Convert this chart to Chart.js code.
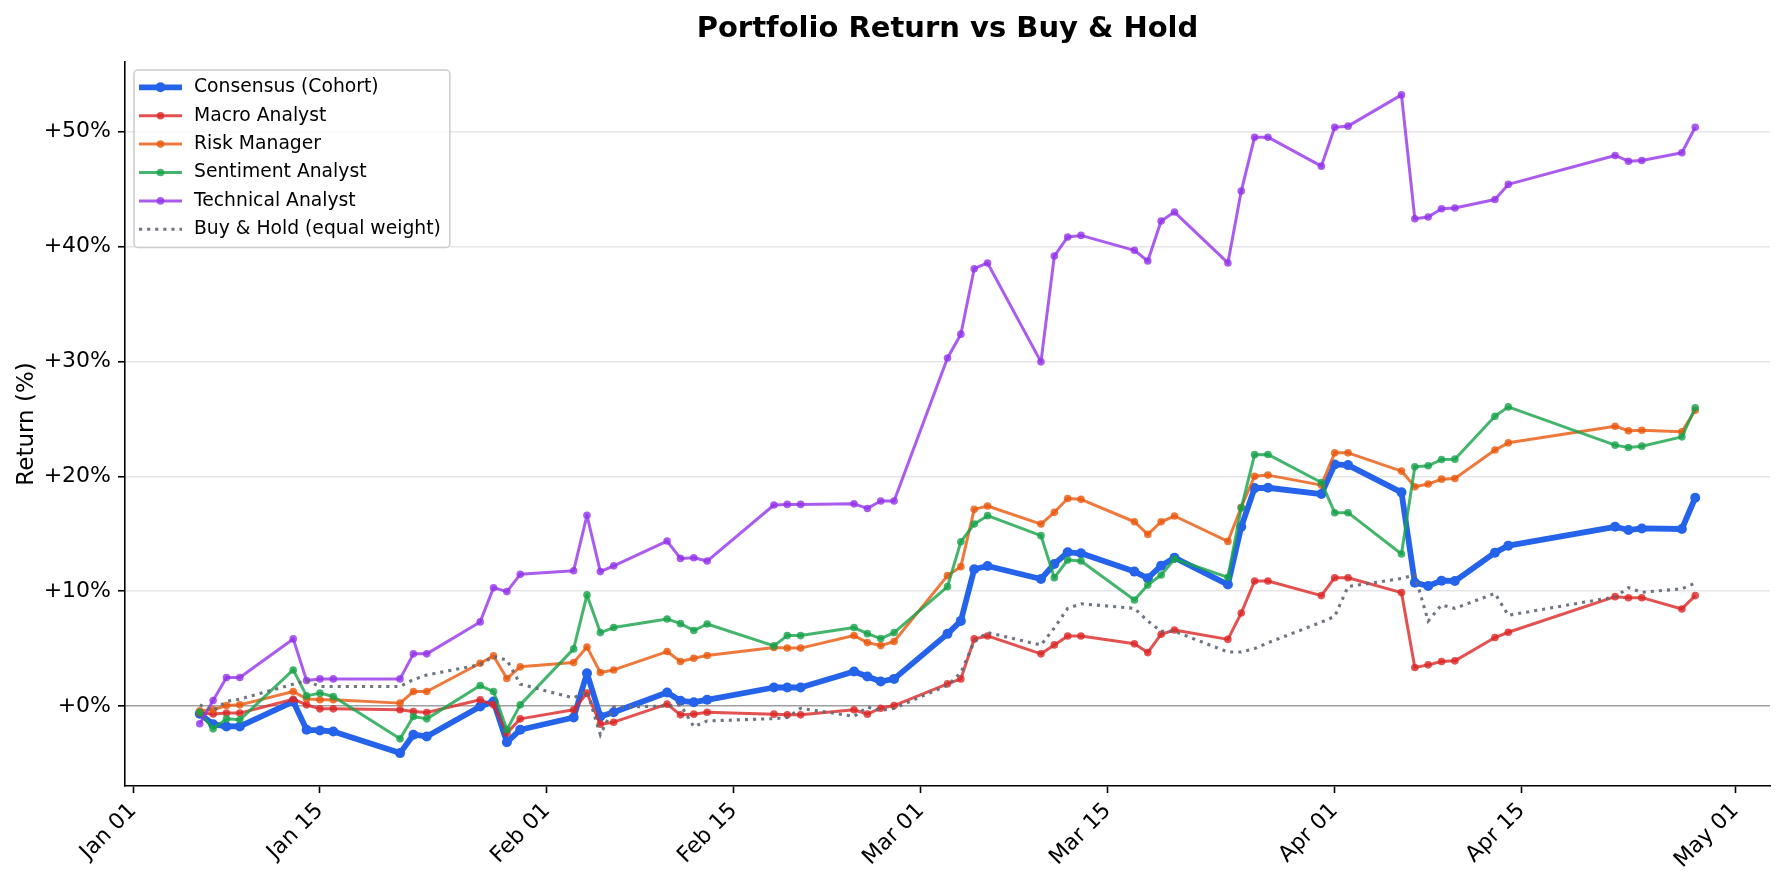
<!DOCTYPE html>
<html lang="en">
<head>
<meta charset="UTF-8">
<title>Portfolio Return vs Buy & Hold</title>
<script src="https://cdn.jsdelivr.net/npm/chart.js@4.4.1/dist/chart.umd.min.js"></script>
<style>
    html, body { margin: 0; padding: 0; background: #ffffff; }
    #wrap { width: 1785px; height: 883px; }
</style>
</head>
<body>
<div id="wrap"><canvas id="returnChart" width="1785" height="883"></canvas></div>
<script>
    // Datos (retorno acumulado en %)
    const chartTitle = 'Portfolio Return vs Buy & Hold';
    const yAxisLabel = 'Return (%)';

    const tradeDates = [
        '2026-01-06', '2026-01-07', '2026-01-08', '2026-01-09', '2026-01-13', '2026-01-14', '2026-01-15', '2026-01-16',
        '2026-01-21', '2026-01-22', '2026-01-23', '2026-01-27', '2026-01-28', '2026-01-29', '2026-01-30',
        '2026-02-03', '2026-02-04', '2026-02-05', '2026-02-06', '2026-02-10', '2026-02-11', '2026-02-12', '2026-02-13',
        '2026-02-18', '2026-02-19', '2026-02-20', '2026-02-24', '2026-02-25', '2026-02-26', '2026-02-27',
        '2026-03-03', '2026-03-04', '2026-03-05', '2026-03-06', '2026-03-10', '2026-03-11', '2026-03-12', '2026-03-13',
        '2026-03-17', '2026-03-18', '2026-03-19', '2026-03-20', '2026-03-24', '2026-03-25', '2026-03-26', '2026-03-27',
        '2026-03-31', '2026-04-01', '2026-04-02', '2026-04-06', '2026-04-07', '2026-04-08', '2026-04-09', '2026-04-10',
        '2026-04-13', '2026-04-14', '2026-04-22', '2026-04-23', '2026-04-24', '2026-04-27', '2026-04-28'
    ];

    const consensusReturns = [
        -0.68, -1.6, -1.78, -1.78, 0.39, -2.07, -2.13, -2.22, -4.1, -2.5, -2.65, -0.04, 0.39, -3.15, -2.07,
        -1.0, 2.85, -0.91, -0.54, 1.17, 0.45, 0.33, 0.54, 1.61, 1.61, 1.61, 3.0, 2.57, 2.13, 2.36,
        6.28, 7.41, 11.9, 12.19, 11.06, 12.36, 13.38, 13.29, 11.7, 11.12, 12.22, 12.91, 10.57, 15.6, 18.97, 19.0, 18.45,
        21.03, 20.97, 18.6, 10.74, 10.45, 10.91, 10.88, 13.35, 13.96, 15.6, 15.32, 15.46, 15.41, 18.13
    ];

    const macroReturns = [
        -0.6, -0.7, -0.62, -0.62, 0.59, 0.1, -0.25, -0.25, -0.33, -0.48, -0.57, 0.54, 0.1, -2.36, -1.12,
        -0.33, 1.12, -1.58, -1.41, 0.16, -0.77, -0.71, -0.54, -0.71, -0.77, -0.77, -0.33, -0.71, -0.19, 0.04,
        1.93, 2.36, 5.84, 6.1, 4.54, 5.32, 6.1, 6.1, 5.41, 4.65, 6.25, 6.62, 5.8, 8.1, 10.88, 10.88, 9.61,
        11.17, 11.17, 9.87, 3.35, 3.58, 3.87, 3.93, 5.96, 6.42, 9.52, 9.43, 9.43, 8.45, 9.61
    ];

    const riskReturns = [
        -0.42, -0.33, 0.04, 0.1, 1.26, 0.62, 0.54, 0.54, 0.25, 1.26, 1.26, 3.72, 4.36, 2.39, 3.41,
        3.78, 5.14, 2.91, 3.14, 4.74, 3.87, 4.16, 4.39, 5.09, 5.04, 5.04, 6.13, 5.52, 5.26, 5.61,
        11.35, 12.13, 17.12, 17.41, 15.84, 16.86, 18.07, 17.99, 16.04, 14.94, 16.04, 16.54, 14.33, 17.3, 20.0, 20.1, 19.23,
        22.04, 22.04, 20.45, 19.09, 19.32, 19.75, 19.81, 22.28, 22.91, 24.36, 23.96, 24.01, 23.87, 25.75
    ];

    const sentimentReturns = [
        -0.54, -1.99, -1.12, -1.2, 3.14, 0.88, 1.12, 0.83, -2.86, -0.91, -1.12, 1.78, 1.26, -2.07, 0.1,
        4.97, 9.67, 6.39, 6.83, 7.58, 7.17, 6.57, 7.14, 5.23, 6.13, 6.13, 6.83, 6.3, 5.87, 6.39,
        10.39, 14.3, 15.84, 16.57, 14.83, 11.17, 12.71, 12.62, 9.23, 10.54, 11.41, 12.8, 11.2, 17.23, 21.88, 21.9, 19.46,
        16.83, 16.83, 13.23, 20.83, 20.91, 21.46, 21.49, 25.23, 26.04, 22.71, 22.51, 22.62, 23.43, 25.96
    ];

    const technicalReturns = [
        -1.55, 0.48, 2.48, 2.48, 5.84, 2.22, 2.36, 2.36, 2.36, 4.54, 4.54, 7.32, 10.3, 9.96, 11.46,
        11.78, 16.6, 11.7, 12.2, 14.36, 12.85, 12.91, 12.62, 17.5, 17.55, 17.55, 17.6, 17.2, 17.85, 17.85,
        30.3, 32.37, 38.07, 38.57, 29.96, 39.17, 40.83, 40.97, 39.67, 38.74, 42.22, 43.0, 38.57, 44.83, 49.52, 49.52, 47.0,
        50.39, 50.48, 53.2, 42.42, 42.57, 43.29, 43.35, 44.1, 45.41, 47.93, 47.43, 47.49, 48.16, 50.39
    ];

    const buyHoldReturns = [
        0.1, -0.4, 0.4, 0.6, 1.9, 2.2, 1.7, 1.7, 1.7, 2.3, 2.7, 3.6, 4.3, 4.0, 1.9,
        0.7, 1.3, -2.5, -0.1, 0.0, 0.1, -1.8, -1.3, -1.1, -1.0, -0.2, -0.9, -0.1, -0.4, -0.2,
        1.8, 2.9, 5.6, 6.4, 5.3, 6.8, 8.5, 8.9, 8.5, 7.4, 6.5, 6.5, 4.7, 4.7, 5.0, 5.5, 7.3,
        7.8, 10.4, 11.1, 11.4, 7.4, 8.8, 8.5, 9.8, 7.9, 9.5, 10.3, 9.9, 10.2, 10.7
    ];

    const xTickDates = ['2026-01-01', '2026-01-15', '2026-02-01', '2026-02-15', '2026-03-01', '2026-03-15', '2026-04-01', '2026-04-15', '2026-05-01'];
    const xTickLabels = ['Jan 01', 'Jan 15', 'Feb 01', 'Feb 15', 'Mar 01', 'Mar 15', 'Apr 01', 'Apr 15', 'May 01'];
    const yTickValues = [0, 10, 20, 30, 40, 50];

    function initializeApp() {
        if (typeof Chart === 'undefined') {
            console.error('Chart.js no está cargado correctamente');
            return;
        }

        const canvas = document.getElementById('returnChart');
        const baseTime = Date.UTC(2026, 0, 1);
        const fontFamily = '"DejaVu Sans", sans-serif';

        // dias desde el 1 de enero
        function toDay(dateStr) {
            const p = dateStr.split('-');
            return (Date.UTC(+p[0], +p[1] - 1, +p[2]) - baseTime) / 86400000;
        }

        function toPoints(values) {
            return values.map((v, i) => ({ x: toDay(tradeDates[i]), y: v }));
        }

        const allDays = tradeDates.map(toDay);
        const allValues = [].concat(consensusReturns, macroReturns, riskReturns, sentimentReturns, technicalReturns, buyHoldReturns);
        // margen de 5% como matplotlib
        const xSpan = Math.max(...allDays) - Math.min(...allDays);
        const ySpan = Math.max(...allValues) - Math.min(...allValues);
        const xMin = Math.min(...allDays) - xSpan * 0.05;
        const xMax = Math.max(...allDays) + xSpan * 0.05;
        const yMin = Math.min(...allValues) - ySpan * 0.05;
        const yMax = Math.max(...allValues) + ySpan * 0.05;

        function analystSet(label, values, rgb, order) {
            return {
                label: label,
                data: toPoints(values),
                borderColor: 'rgba(' + rgb + ',0.8)',
                backgroundColor: 'rgba(' + rgb + ',0.8)',
                pointBackgroundColor: 'rgba(' + rgb + ',0.8)',
                borderWidth: 3,
                pointRadius: 3.8,
                pointBorderWidth: 0,
                pointHoverRadius: 3.8,
                borderJoinStyle: 'round',
                tension: 0,
                order: order
            };
        }

        const datasets = [
            {
                label: 'Consensus (Cohort)',
                data: toPoints(consensusReturns),
                borderColor: '#2563eb',
                backgroundColor: '#2563eb',
                pointBackgroundColor: '#2563eb',
                borderWidth: 5.8,
                pointRadius: 5,
                pointBorderWidth: 0,
                pointHoverRadius: 5,
                borderJoinStyle: 'round',
                tension: 0,
                order: 10
            },
            analystSet('Macro Analyst', macroReturns, '220,38,38', 5),
            analystSet('Risk Manager', riskReturns, '234,88,12', 4),
            analystSet('Sentiment Analyst', sentimentReturns, '22,163,74', 3),
            analystSet('Technical Analyst', technicalReturns, '147,51,234', 2),
            {
                label: 'Buy & Hold (equal weight)',
                data: toPoints(buyHoldReturns),
                borderColor: 'rgba(100,106,118,0.92)',
                backgroundColor: 'rgba(100,106,118,0.92)',
                borderWidth: 3.1,
                borderDash: [3.1, 5],
                pointRadius: 0,
                pointHoverRadius: 0,
                tension: 0,
                order: 1
            }
        ];

        // Titulo centrado sobre el area del grafico
        const titlePlugin = {
            id: 'axesTitle',
            afterDraw(chart) {
                const ctx = chart.ctx;
                const area = chart.chartArea;
                ctx.save();
                ctx.font = 'bold 29px ' + fontFamily;
                ctx.fillStyle = '#000000';
                ctx.textAlign = 'center';
                ctx.textBaseline = 'middle';
                ctx.fillText(chartTitle, (area.left + area.right) / 2, 29.5);
                ctx.restore();
            }
        };

        // Leyenda con marco dentro del area del grafico
        const legendPlugin = {
            id: 'boxLegend',
            afterDatasetsDraw(chart) {
                const ctx = chart.ctx;
                const area = chart.chartArea;
                const sets = chart.data.datasets;
                const x0 = area.left + 9;
                const y0 = area.top + 8;
                const rowH = 28.4;
                ctx.save();
                ctx.font = '18.75px ' + fontFamily;
                let textW = 0;
                sets.forEach(ds => { textW = Math.max(textW, ctx.measureText(ds.label).width); });
                const w = 60 + textW + 9;
                const h = sets.length * rowH + 7;

                ctx.beginPath();
                ctx.roundRect(x0, y0, w, h, 4);
                ctx.fillStyle = 'rgba(255,255,255,0.8)';
                ctx.fill();
                ctx.strokeStyle = '#cccccc';
                ctx.lineWidth = 1.5;
                ctx.stroke();

                sets.forEach((ds, i) => {
                    const cy = y0 + 17.3 + i * rowH;
                    ctx.beginPath();
                    ctx.moveTo(x0 + 5, cy);
                    ctx.lineTo(x0 + 48, cy);
                    ctx.strokeStyle = ds.borderColor;
                    ctx.lineWidth = ds.borderWidth;
                    ctx.setLineDash(ds.borderDash || []);
                    ctx.stroke();
                    ctx.setLineDash([]);
                    if (ds.pointRadius > 0) {
                        ctx.beginPath();
                        ctx.arc(x0 + 26.5, cy, ds.pointRadius, 0, Math.PI * 2);
                        ctx.fillStyle = ds.pointBackgroundColor;
                        ctx.fill();
                    }
                    ctx.fillStyle = '#000000';
                    ctx.textBaseline = 'middle';
                    ctx.textAlign = 'left';
                    ctx.fillText(ds.label, x0 + 60, cy);
                });
                ctx.restore();
            }
        };

        new Chart(canvas, {
            type: 'line',
            data: { datasets: datasets },
            plugins: [titlePlugin, legendPlugin],
            options: {
                responsive: false,
                animation: false,
                devicePixelRatio: 1,
                layout: { padding: { left: 0, top: 62, right: 15, bottom: 0 } },
                plugins: {
                    legend: { display: false },
                    title: { display: false },
                    tooltip: { enabled: false }
                },
                scales: {
                    x: {
                        type: 'linear',
                        min: xMin,
                        max: xMax,
                        afterBuildTicks: scale => {
                            scale.ticks = xTickDates.map(d => ({ value: toDay(d) }));
                        },
                        afterFit: scale => { scale.height = 97; },
                        grid: {
                            display: true,
                            drawOnChartArea: false,
                            drawTicks: true,
                            tickLength: 7,
                            tickColor: '#000000',
                            tickWidth: 1.6
                        },
                        border: { display: true, color: '#000000', width: 1.6 },
                        ticks: {
                            autoSkip: false,
                            minRotation: 45,
                            maxRotation: 45,
                            padding: 5,
                            color: '#000000',
                            font: { family: fontFamily, size: 22 },
                            callback: value => {
                                const idx = xTickDates.findIndex(d => toDay(d) === value);
                                return idx >= 0 ? xTickLabels[idx] : '';
                            }
                        }
                    },
                    y: {
                        type: 'linear',
                        min: yMin,
                        max: yMax,
                        afterBuildTicks: scale => {
                            scale.ticks = yTickValues.map(v => ({ value: v }));
                        },
                        afterFit: scale => { scale.width = 125; },
                        grid: {
                            display: true,
                            drawOnChartArea: true,
                            drawTicks: true,
                            tickLength: 7,
                            tickColor: '#000000',
                            tickWidth: 1.6,
                            color: ctx => (ctx.tick && ctx.tick.value === 0 ? '#a0a0a0' : '#e6e6e6'),
                            lineWidth: ctx => (ctx.tick && ctx.tick.value === 0 ? 1.6 : 1.5)
                        },
                        border: { display: true, color: '#000000', width: 1.6 },
                        title: {
                            display: true,
                            text: yAxisLabel,
                            color: '#000000',
                            font: { family: fontFamily, size: 23 },
                            padding: { top: 13, bottom: 0 }
                        },
                        ticks: {
                            padding: 7,
                            color: '#000000',
                            font: { family: fontFamily, size: 22 },
                            callback: value => (value >= 0 ? '+' : '') + value + '%'
                        }
                    }
                }
            }
        });
    }

    document.addEventListener('DOMContentLoaded', initializeApp);
</script>
</body>
</html>
